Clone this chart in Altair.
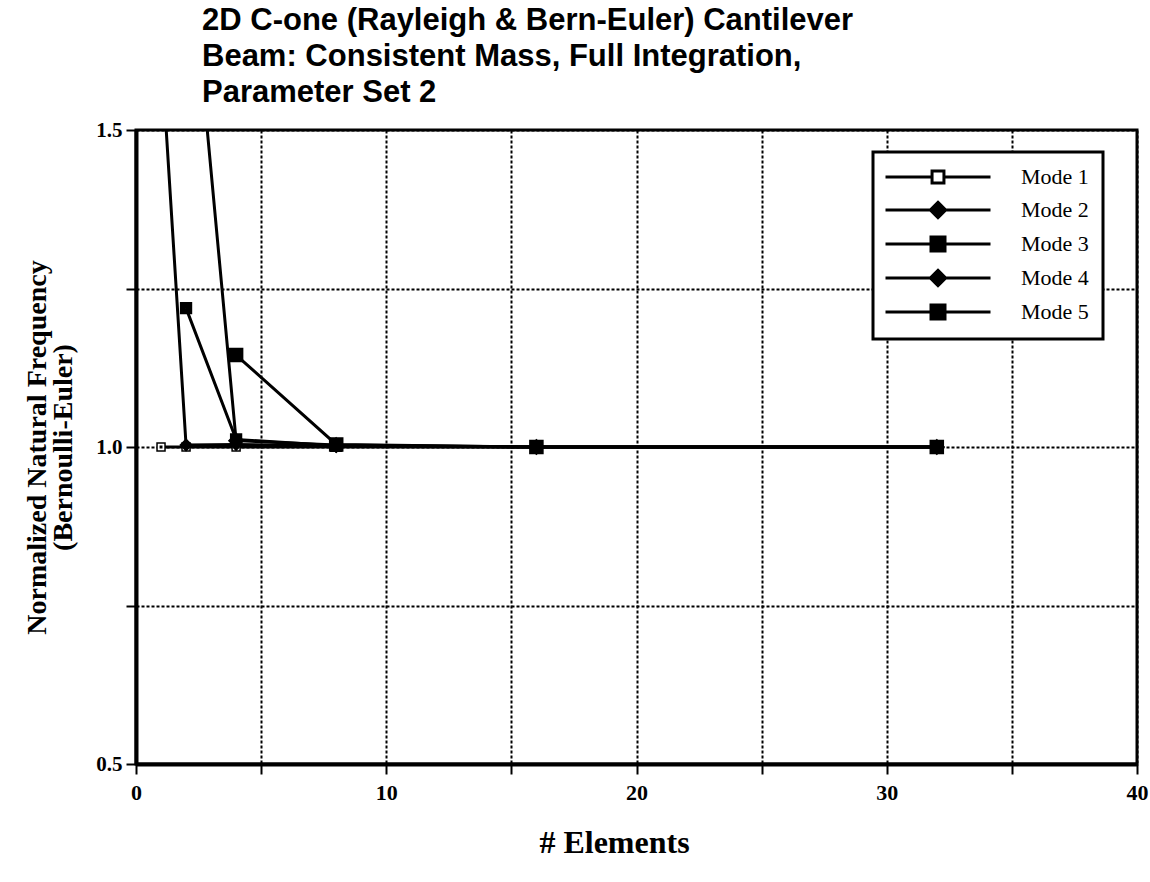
import altair as alt
import pandas as pd

modes = ["Mode 1", "Mode 2", "Mode 3", "Mode 4", "Mode 5"]

m1_x = [1, 2, 4, 8, 16, 32]
m1_y = [1.0, 1.0, 1.0, 1.0, 1.0, 1.0]
m2_x = [1, 2, 4, 8, 16, 32]
m2_y = [1.63, 1.003, 1.004, 1.001, 1.0, 1.0]
m3_x = [2, 4, 8, 16, 32]
m3_y = [1.219, 1.012, 1.002, 1.0, 1.0]
m4_x = [2, 4, 8, 16, 32]
m4_y = [1.86, 1.01, 1.003, 1.0, 1.0]
m5_x = [4, 8, 16, 32]
m5_y = [1.145, 1.004, 1.0, 1.0]

rows = []
for name, xs, ys in zip(modes, [m1_x, m2_x, m3_x, m4_x, m5_x], [m1_y, m2_y, m3_y, m4_y, m5_y]):
    for xv, yv in zip(xs, ys):
        rows.append({"Mode": name, "Elements": xv, "Freq": yv})
df = pd.DataFrame(rows)

SQ = "M-1,-1H1V1H-1Z"
DOTSQ = "M-1,-1H1V1H-1Z M-0.18,-0.18V0.18H0.18V-0.18Z"
DIA = "M0,-1.2L1.2,0L0,1.2L-1.2,0Z"
LSQ = "M-7.5,0H-1M1,0H7.5M-0.85,-0.85H0.85V0.85H-0.85Z"
LSQ3 = "M-7.5,0H-1M1,0H7.5M-1,-1H1V1H-1Z"
LDIA = "M-7.5,0H-1M1,0H7.5M0,-1.1L1.1,0L0,1.1L-1.1,0Z"

serif = "Liberation Serif"

x_enc = alt.X(
    "Elements:Q",
    scale=alt.Scale(domain=[0, 40], nice=False, zero=False),
    axis=alt.Axis(
        values=list(range(0, 41, 5)),
        labelExpr="datum.value % 10 == 0 ? datum.label : ''",
        labelFlush=False,
        labelFontSize=22,
        labelPadding=8,
        title="# Elements",
        titleFontSize=32,
        titlePadding=24,
        titleX=478,
    ),
)
y_enc = alt.Y(
    "Freq:Q",
    scale=alt.Scale(domain=[0.5, 1.5], nice=False, zero=False),
    axis=alt.Axis(
        values=[0.5, 0.75, 1.0, 1.25, 1.5],
        labelExpr="(abs(datum.value-0.75)<0.01 || abs(datum.value-1.25)<0.01) ? '' : format(datum.value, '.1f')",
        labelFlush=False,
        labelFontSize=21,
        labelPadding=4,
        title=["Normalized  Natural  Frequency", "(Bernoulli-Euler)"],
        titleFontSize=28,
        titleLineHeight=26,
        titlePadding=18,
    ),
)

lines = alt.Chart(df).mark_line(color="black", strokeWidth=3, clip=True).encode(
    x=x_enc, y=y_enc, detail="Mode:N", order="Elements:Q"
)

points = alt.Chart(df).mark_point(filled=True, stroke="black", strokeWidth=1.5, opacity=1, clip=True).encode(
    x=x_enc,
    y=y_enc,
    shape=alt.Shape("Mode:N", scale=alt.Scale(domain=modes, range=[DOTSQ, DIA, DOTSQ, DIA, SQ]), legend=None),
    fill=alt.Fill("Mode:N", scale=alt.Scale(domain=modes, range=["white", "black", "black", "black", "black"]), legend=None),
    size=alt.Size("Mode:N", scale=alt.Scale(domain=modes, range=[64, 170, 170, 170, 170]), legend=None),
)

leg = alt.Legend(
    title=None,
    orient="none",
    legendX=737,
    legendY=22,
    padding=14,
    fillColor="white",
    strokeColor="black",
    symbolSize=196,
    symbolStrokeWidth=3,
    symbolStrokeColor="black",
    symbolOffset=40,
    labelOffset=72,
    labelFont=serif,
    labelFontSize=22,
    labelFontWeight="normal",
    labelColor="black",
    labelExpr="datum.label + '\u00a0\u00a0\u00a0\u00a0'",
    rowPadding=7,
)

legend_layer = alt.Chart(df).transform_filter("false").mark_point(filled=True, strokeWidth=3, opacity=1).encode(
    x=x_enc,
    y=y_enc,
    shape=alt.Shape("Mode:N", scale=alt.Scale(domain=modes, range=[LSQ, LDIA, LSQ3, LDIA, LSQ3]), legend=leg, title=None),
    fill=alt.Fill("Mode:N", scale=alt.Scale(domain=modes, range=["white", "black", "black", "black", "black"]), legend=leg, title=None),
    stroke=alt.Stroke("Mode:N", scale=alt.Scale(domain=modes, range=["black"] * 5), legend=leg, title=None),
)

chart = (
    alt.layer(lines, points, legend_layer)
    .resolve_scale(shape="independent", fill="independent", size="independent", stroke="independent")
    .properties(
        width=1001,
        height=634,
        autosize=alt.AutoSizeParams(type="none"),
        padding={"left": 136, "top": 130, "right": 13, "bottom": 118},
        title=alt.TitleParams(
            text=["2D C-one (Rayleigh & Bern-Euler) Cantilever", "Beam:  Consistent Mass, Full Integration,", "Parameter Set 2"],
            anchor="start",
            frame="group",
            font="Liberation Sans",
            fontSize=31,
            fontWeight="bold",
            color="black",
            dx=66,
            offset=10,
            lineHeight=36,
        ),
    )
    .configure_view(stroke="black", strokeWidth=3)
    .configure_axis(
        domainColor="black",
        domainWidth=4,
        tickColor="black",
        tickWidth=2,
        tickSize=10,
        labelFont=serif,
        labelFontWeight="bold",
        labelColor="black",
        titleFont=serif,
        titleFontWeight="bold",
        titleColor="black",
        grid=True,
        gridColor="black",
        gridDash=[3, 2],
        gridWidth=2,
        gridOpacity=1,
    )
    .configure_legend(strokeWidth=3)
)

chart.save("out.html", embed_options={"renderer": "svg", "actions": False})
